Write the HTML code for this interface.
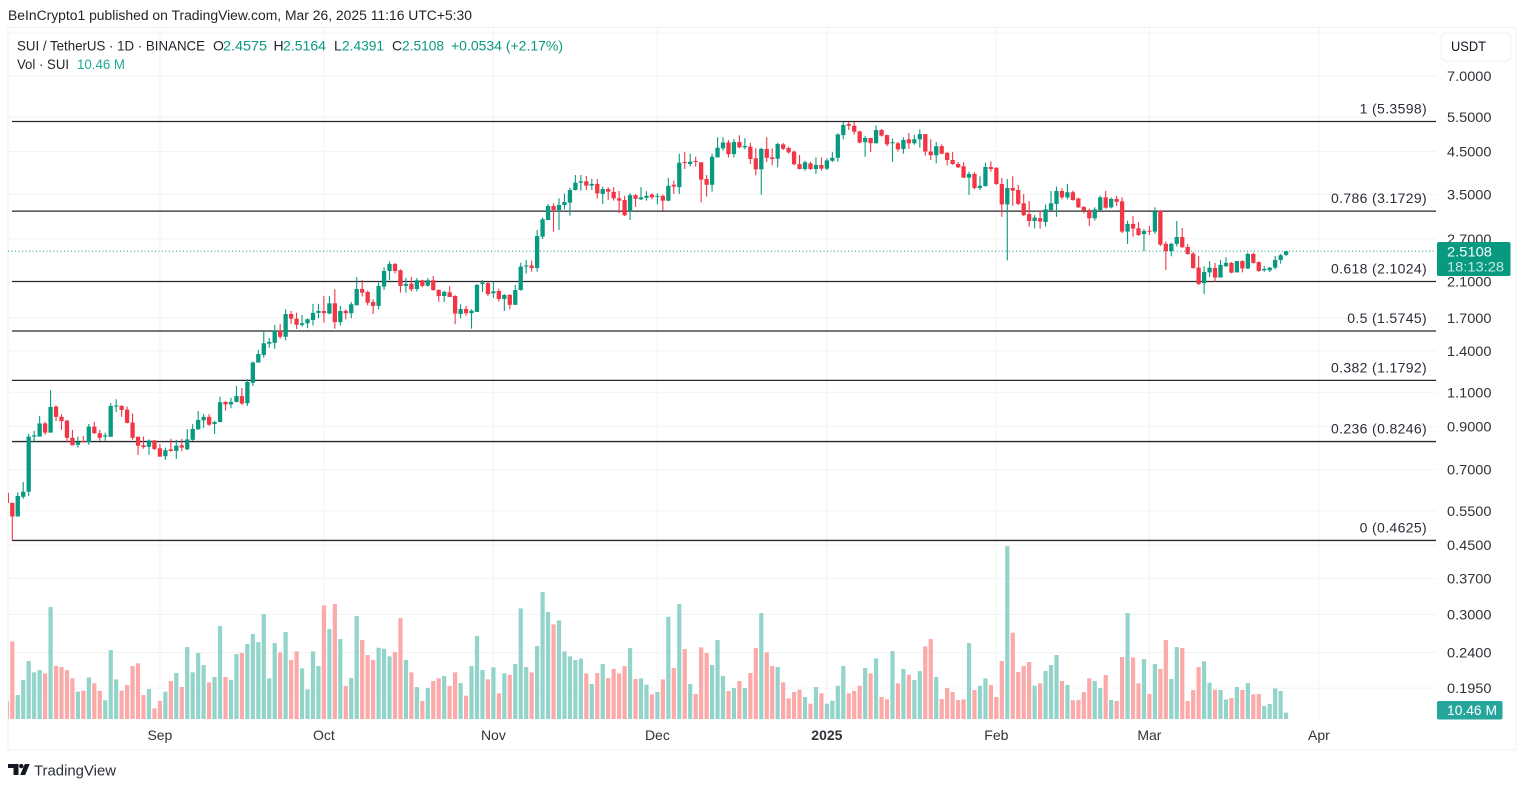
<!DOCTYPE html>
<html lang="en">
<head>
<meta charset="utf-8">
<title>SUI / TetherUS 1D chart</title>
<style>
html,body{margin:0;padding:0;background:#fff;width:1527px;height:786px;overflow:hidden}
svg{display:block;font-family:"Liberation Sans",Arial,sans-serif}
</style>
</head>
<body>
<svg id="chart" xmlns="http://www.w3.org/2000/svg" width="1527" height="786" viewBox="0 0 1527 786">
  <defs><clipPath id="pane-clip"><rect x="8" y="27" width="1428" height="692"/></clipPath></defs>
  <text x="8" y="20" font-size="13.5" fill="#1f2228" textLength="464" lengthAdjust="spacingAndGlyphs">BeInCrypto1 published on TradingView.com, Mar 26, 2025 11:16 UTC+5:30</text>
  <rect x="8" y="27.5" width="1508" height="722.5" fill="#fff" stroke="#f0f1f3"/>
  <g id="grid"></g>
  <g id="fib"></g>
  <g id="volume" clip-path="url(#pane-clip)"></g>
  <line id="lastLine" x1="8" x2="1436" stroke="#089981" stroke-width="1" stroke-dasharray="1 2.5"/>
  <g id="candles" clip-path="url(#pane-clip)"></g>
  <g id="priceAxis"></g>
  <g id="timeAxis"></g>

  <g font-size="14">
    <text x="17" y="50.5" fill="#22252b" textLength="188" lengthAdjust="spacingAndGlyphs">SUI / TetherUS · 1D · BINANCE</text>
    <text x="213" y="50.5" fill="#22252b">O</text>
    <text x="223" y="50.5" fill="#089981" textLength="44" lengthAdjust="spacingAndGlyphs">2.4575</text>
    <text x="273.5" y="50.5" fill="#22252b">H</text>
    <text x="283" y="50.5" fill="#089981" textLength="43" lengthAdjust="spacingAndGlyphs">2.5164</text>
    <text x="334" y="50.5" fill="#22252b">L</text>
    <text x="342" y="50.5" fill="#089981" textLength="42" lengthAdjust="spacingAndGlyphs">2.4391</text>
    <text x="392" y="50.5" fill="#22252b">C</text>
    <text x="402" y="50.5" fill="#089981" textLength="42" lengthAdjust="spacingAndGlyphs">2.5108</text>
    <text x="451" y="50.5" fill="#089981" textLength="112" lengthAdjust="spacingAndGlyphs">+0.0534 (+2.17%)</text>
    <text x="17" y="69" fill="#22252b" textLength="52" lengthAdjust="spacingAndGlyphs">Vol · SUI</text>
    <text x="77" y="69" fill="#22ab94" textLength="48" lengthAdjust="spacingAndGlyphs">10.46 M</text>
  </g>

  <g>
    <rect x="1441" y="33" width="70" height="28" rx="5" fill="#fff" stroke="#f0f1f3"/>
    <text x="1451" y="51" font-size="14" fill="#131722" textLength="35" lengthAdjust="spacingAndGlyphs">USDT</text>
  </g>

  <g>
    <rect x="1437" y="242" width="73.5" height="34" rx="2" fill="#089981"/>
    <text x="1447" y="256.5" font-size="14" fill="#fff" textLength="45" lengthAdjust="spacingAndGlyphs">2.5108</text>
    <text x="1447" y="271.5" font-size="14" fill="#c4e9e1" textLength="57" lengthAdjust="spacingAndGlyphs">18:13:28</text>
  </g>
  <g>
    <rect x="1437" y="701" width="65.5" height="18.5" rx="2" fill="#26a69a"/>
    <text x="1447" y="715" font-size="14" fill="#fff" textLength="50" lengthAdjust="spacingAndGlyphs">10.46 M</text>
  </g>

  <g>
    <path fill="#131722" d="M8 764h10.5v11h-5v-7H8zM24.8 764h4.9l-4.6 11h-4.9z"/>
    <circle cx="21.3" cy="766.1" r="2.2" fill="#131722"/>
    <text x="34" y="775.5" font-size="15" fill="#2a2e39" textLength="82" lengthAdjust="spacingAndGlyphs">TradingView</text>
  </g>
</svg>
<script>
// ---- chart data ----
const opens = [.611,
.576,.532,.597,.615,.849,.849,.917,.869,1.012,.953,
.932,.843,.809,.826,.823,.900,.866,.849,.848,1.012,
1.016,.994,.922,.848,.807,.800,.830,.793,.757,.788,
.781,.807,.788,.833,.886,.934,.953,.914,.924,1.040,
1.025,1.040,1.076,1.032,1.163,1.309,1.369,1.462,1.469,1.578,
1.522,1.739,1.692,1.631,1.647,1.679,1.750,1.770,1.743,1.851,
1.658,1.770,1.747,1.830,2.013,1.978,1.865,1.823,2.041,2.236,
2.331,2.245,2.049,2.076,2.013,2.118,2.052,2.118,2.001,1.932,
1.974,1.932,1.739,1.791,1.747,1.760,2.073,2.083,1.963,1.989,
1.898,1.944,1.835,2.001,2.295,2.309,2.276,2.733,3.013,3.270,
3.194,3.290,3.335,3.591,3.748,3.778,3.684,3.720,3.510,3.612,
3.551,3.420,3.387,3.170,3.484,3.400,3.430,3.495,3.455,3.470,
3.374,3.702,3.650,4.230,4.181,4.255,4.222,3.829,3.702,4.345,
4.582,4.740,4.430,4.752,4.610,4.627,4.322,4.052,4.565,4.345,
4.312,4.690,4.590,4.495,4.175,4.060,4.197,4.060,4.157,4.068,
4.262,4.335,4.950,5.280,5.228,5.060,4.750,4.868,4.720,5.099,
4.950,4.720,4.720,4.565,4.830,4.720,4.830,4.980,4.495,4.400,
4.640,4.460,4.279,4.181,4.125,3.860,3.945,3.634,3.673,4.108,
4.090,3.720,3.300,3.634,3.591,3.322,3.118,2.995,3.045,2.979,
3.194,3.310,3.571,3.440,3.544,3.415,3.250,3.194,3.043,3.194,
3.440,3.245,3.408,3.360,2.815,2.945,2.870,2.775,2.830,2.815,
3.182,2.620,2.513,2.620,2.727,2.573,2.475,2.280,2.082,2.218,
2.276,2.152,2.300,2.345,2.218,2.370,2.270,2.470,2.355,2.245,
2.245,2.280,2.385,2.4575];
const highs = [.625,
.578,.613,.651,.862,.878,.958,.926,1.113,1.018,.968,
.936,.883,.849,.852,.914,.926,.883,.869,1.032,1.056,
1.020,1.012,.972,.848,.849,.835,.833,.813,.796,.838,
.833,.838,.886,.914,.986,.968,.968,.930,1.072,1.044,
1.065,1.142,1.128,1.188,1.317,1.409,1.575,1.511,1.631,1.641,
1.787,1.770,1.752,1.729,1.695,1.845,1.845,1.932,1.932,2.009,
1.823,1.787,1.865,2.158,2.121,1.993,1.895,2.090,2.285,2.367,
2.341,2.258,2.149,2.158,2.146,2.125,2.146,2.170,2.009,1.993,
2.045,1.940,1.841,1.823,1.787,2.073,2.121,2.097,2.101,2.016,
1.953,1.953,2.061,2.347,2.385,2.375,2.842,3.060,3.310,3.322,
3.421,3.519,3.640,3.920,3.920,3.897,3.836,3.829,3.663,3.650,
3.650,3.571,3.470,3.524,3.505,3.650,3.565,3.524,3.524,3.495,
3.857,3.792,4.440,4.487,4.440,4.360,4.222,3.920,4.440,4.89,
4.89,4.810,4.835,4.945,4.860,4.730,4.582,4.598,4.89,4.582,
4.730,4.730,4.627,4.520,4.408,4.262,4.237,4.345,4.345,4.322,
4.480,5.000,5.344,5.344,5.344,5.080,4.925,4.868,5.240,5.130,
4.970,4.850,4.760,4.885,5.010,4.960,5.120,4.980,4.830,4.760,
4.690,4.480,4.480,4.230,4.222,3.997,3.982,3.890,4.212,4.245,
4.100,3.853,3.829,3.890,3.700,3.510,3.368,3.100,3.176,3.300,
3.571,3.663,3.630,3.720,3.578,3.435,3.270,3.218,3.245,3.470,
3.571,3.435,3.470,3.440,3.000,3.085,2.975,2.860,2.910,3.245,
3.194,2.655,2.640,2.995,2.875,2.620,2.500,2.442,2.300,2.370,
2.347,2.385,2.422,2.358,2.370,2.380,2.490,2.490,2.367,2.300,
2.290,2.442,2.470,2.5164];
const lows = [.570,
.4625,.532,.590,.600,.825,.849,.858,.869,.930,.883,
.820,.807,.796,.820,.809,.862,.829,.829,.848,.980,
.953,.917,.833,.763,.791,.763,.785,.755,.741,.777,
.745,.779,.785,.828,.883,.893,.904,.862,.924,.988,
1.002,1.036,1.022,1.016,1.142,1.309,1.347,1.428,1.418,1.505,
1.491,1.641,1.593,1.615,1.600,1.625,1.695,1.654,1.737,1.596,
1.625,1.686,1.695,1.830,1.926,1.830,1.739,1.787,2.001,2.118,
2.203,1.970,1.970,1.985,1.985,2.033,2.041,1.989,1.868,1.865,
1.921,1.638,1.695,1.722,1.596,1.760,1.978,1.932,1.910,1.868,
1.770,1.787,1.835,1.993,2.203,2.227,2.227,2.696,3.013,2.815,
2.842,3.206,3.090,3.578,3.578,3.591,3.591,3.415,3.310,3.387,
3.374,3.134,3.085,3.013,3.253,3.387,3.374,3.400,3.305,3.180,
3.360,3.510,3.510,4.060,4.115,4.115,3.340,3.455,3.556,4.345,
4.520,4.345,4.345,4.582,4.555,4.181,3.912,3.495,4.230,4.148,
4.100,4.537,4.440,4.148,4.052,4.020,4.036,3.945,4.020,4.036,
4.230,4.237,4.830,5.099,4.970,4.720,4.360,4.480,4.710,4.905,
4.640,4.237,4.495,4.440,4.565,4.680,4.600,4.390,4.279,4.197,
4.425,4.148,4.157,4.085,3.853,3.488,3.605,3.591,3.665,3.997,
3.700,3.070,2.380,3.270,3.285,3.080,2.900,2.870,2.865,2.900,
3.182,3.070,3.400,3.400,3.374,3.232,3.134,2.910,3.000,3.180,
3.218,3.225,3.270,2.790,2.620,2.733,2.745,2.513,2.760,2.775,
2.588,2.249,2.437,2.580,2.558,2.460,2.266,2.060,1.953,2.160,
2.097,2.152,2.290,2.205,2.218,2.218,2.262,2.335,2.225,2.226,
2.223,2.258,2.335,2.4391];
const closes = [.576,
.532,.600,.615,.849,.855,.917,.869,1.010,.953,.930,
.843,.807,.823,.821,.900,.866,.843,.855,1.016,1.018,
.992,.920,.843,.805,.799,.830,.790,.755,.784,.781,
.805,.796,.835,.888,.936,.953,.910,.924,1.038,1.025,
1.040,1.076,1.030,1.168,1.309,1.376,1.465,1.477,1.578,1.522,
1.739,1.692,1.633,1.647,1.686,1.750,1.770,1.747,1.851,1.658,
1.770,1.747,1.841,2.013,1.970,1.858,1.823,2.049,2.236,2.331,
2.236,2.049,2.073,2.009,2.118,2.049,2.118,2.001,1.932,1.978,
1.921,1.743,1.791,1.747,1.773,2.061,2.090,1.953,1.985,1.898,
1.944,1.835,2.001,2.295,2.309,2.276,2.744,3.025,3.270,3.194,
3.290,3.348,3.591,3.748,3.778,3.682,3.720,3.520,3.612,3.556,
3.420,3.374,3.098,3.484,3.410,3.440,3.470,3.440,3.470,3.374,
3.680,3.664,4.212,4.205,4.237,4.230,3.815,3.702,4.360,4.598,
4.740,4.430,4.752,4.610,4.645,4.305,4.052,4.565,4.335,4.305,
4.700,4.570,4.475,4.175,4.060,4.222,4.060,4.157,4.068,4.270,
4.335,4.970,5.250,5.228,5.050,4.740,4.868,4.720,5.099,4.935,
4.690,4.750,4.555,4.810,4.720,4.830,4.980,4.495,4.400,4.640,
4.440,4.279,4.181,4.100,3.860,3.945,3.634,3.680,4.108,4.060,
3.720,3.300,3.634,3.578,3.310,3.100,2.995,3.055,2.985,3.206,
3.322,3.571,3.440,3.544,3.387,3.245,3.188,3.043,3.206,3.440,
3.238,3.408,3.352,2.815,2.945,2.865,2.760,2.825,2.815,3.170,
2.610,2.513,2.620,2.727,2.570,2.470,2.276,2.073,2.223,2.280,
2.152,2.317,2.345,2.215,2.370,2.270,2.470,2.345,2.236,2.262,
2.280,2.385,2.452,2.5108];
const volumesM = [29.9,
128.8,39.8,64.7,96.2,77.4,81.3,75.8,185.8,87.9,86.3,
81.3,67.5,45.3,47,69.1,59.2,47,31,114.5,65.8,
47,56.4,87.9,92.4,39.8,49.8,17.7,29.9,45.3,63,
76.3,53.1,119.4,77.4,109.5,89.6,60.8,69.7,154.3,69.7,
64.7,107.8,109.5,124.4,141,127.7,174.2,67.5,126.1,110.6,
144.3,97.9,112.3,84.1,49.2,112.3,87.9,188.6,149.3,190.8,
132.7,54.7,68,170.9,131.1,106.2,97.9,118.3,116.7,104,
111.2,167.6,97.9,77.4,53.1,29.9,51.4,63,67.5,71.3,
54.7,77.4,59.7,38.7,87.9,137.7,81.3,65.8,85.7,42.6,
75.8,73.5,91.2,183.6,86.3,77.4,121.1,210.7,177.5,157.1,
163.7,112.3,104,97.9,100.1,75.8,58.1,76.3,91.2,68,
83,75.8,87.9,117.8,66.4,67.5,57,40.9,44.8,65.8,
169.8,84.6,190.8,116.1,58.1,41.5,118.9,109.5,89.6,131.1,
71.3,46.5,51.4,63,51.4,76.3,117.8,175.9,110.6,87.9,
86.3,60.8,34.3,44.8,48.7,36.5,25.4,53.1,42.6,25.4,
30.4,55.3,87.9,42.6,46.5,55.3,84.6,75.8,100.6,36.5,
32.6,112.8,59.2,83,73.5,64.7,79.6,120.6,132.7,69.7,
33.2,51.4,44.8,31.5,32.6,126.1,48.1,55.3,67.5,56.4,
36.5,96.2,287,143.2,78,87.9,94.6,55.3,59.2,79.6,
89.6,106.2,63,56.4,31,31.5,44.8,67.5,63,51.4,
73,31.5,29.9,102.9,175.9,102.3,59.2,99.5,41.5,91.2,
83,131.1,66.4,119.4,117.8,29.9,48.1,86.3,95.7,60.3,
48.7,48.1,32.6,34.8,53.1,48.1,59.7,40.9,41.5,21.6,
24.9,50.9,46.5,10.46];
const priceTicks = [7,5.5,4.5,3.5,2.7,2.1,1.7,1.4,1.1,0.9,0.7,0.55,0.45,0.37,0.3,0.24,0.195];
const hiddenPriceTicks = [9];
const monthLabels = ["Sep","Oct","Nov","Dec","2025","Feb","Mar","Apr"];
const monthBars = [28,58,89,119,150,181,209,240];
const fibRatios = ["1","0.786","0.618","0.5","0.382","0.236","0"];
const fibPrices = [5.3598,3.1729,2.1024,1.5745,1.1792,0.8246,0.4625];
const lastPrice = 2.5108;

// ---- axis functions ----
function xOf(bar){ return 6.83 + 5.467 * bar; }
function yOf(price){ return 121.5 + 171 * Math.log(5.3598 / price); }
function volY(v){ return 719 - v * 0.6023; }

const NS = "http://www.w3.org/2000/svg";
function mk(parent, tag, attrs, txt){
  const el = document.createElementNS(NS, tag);
  for (const k in attrs) el.setAttribute(k, attrs[k]);
  if (txt !== undefined) el.textContent = txt;
  parent.appendChild(el);
  return el;
}
const gridG = document.getElementById("grid");
const fibG = document.getElementById("fib");
const volG = document.getElementById("volume");
const candG = document.getElementById("candles");
const pAxis = document.getElementById("priceAxis");
const tAxis = document.getElementById("timeAxis");

// grid
priceTicks.concat(hiddenPriceTicks).forEach(function(p){
  const l = mk(gridG, "line", {x1:8, x2:1436, y1:yOf(p), y2:yOf(p), stroke:"#f2f3f5", "stroke-width":1});
  
  
});
monthBars.forEach(function(b){
  const l = mk(gridG, "line", {x1:xOf(b), x2:xOf(b), y1:28, y2:719, stroke:"#f2f3f5", "stroke-width":1});
  
  
});

// fibonacci levels
fibPrices.forEach(function(p, i){
  const l = mk(fibG, "line", {x1:12, x2:1436, y1:yOf(p), y2:yOf(p), stroke:"#26282c", "stroke-width":1.3});
  
  
  const t = mk(fibG, "text", {x:1427, y:yOf(p)-8, "text-anchor":"end", "font-size":14, "letter-spacing":"0.35", fill:"#2a2e39"}, fibRatios[i] + " (" + p.toFixed(4) + ")");
  
  
});

// volume bars
volumesM.forEach(function(v, i){
  const up = closes[i] >= opens[i];
  const top = volY(v);
  const r = mk(volG, "rect", {x:xOf(i)-2.1, y:top, width:4.2, height:719-top, fill: up ? "#92d4ca" : "#fba9a9"});
  
  
});

// last price line
const lastLine = document.getElementById("lastLine");
lastLine.setAttribute("y1", yOf(lastPrice));
lastLine.setAttribute("y2", yOf(lastPrice));

// candles
opens.forEach(function(o, i){
  const c = closes[i];
  const up = c >= o;
  const col = up ? "#089981" : "#f23645";
  const g = mk(candG, "g", {});
  
  
  const w = mk(g, "line", {x1:xOf(i), x2:xOf(i), y1:yOf(highs[i]), y2:yOf(lows[i]), stroke:col, "stroke-width":1.1});
  
  
  const top = yOf(Math.max(o, c));
  const bot = yOf(Math.min(o, c));
  const b = mk(g, "rect", {x:xOf(i)-2.15, y:top, width:4.3, height:Math.max(bot-top, 1), fill:col});
  
  
});

// price axis labels
priceTicks.forEach(function(p){
  const t = mk(pAxis, "text", {x:1447, y:yOf(p)+5, "font-size":14, fill:"#2f3238", textLength:44.5, lengthAdjust:"spacingAndGlyphs"}, p.toFixed(4));
  
  
});

// time axis labels
monthLabels.forEach(function(m, i){
  const bold = m === "2025";
  const t = mk(tAxis, "text", {x:xOf(monthBars[i]), y:740, "text-anchor":"middle", "font-size":14, "font-weight": bold ? "700" : "400", fill:"#2f3238"}, m);
  
  
});
</script>
</body>
</html>
